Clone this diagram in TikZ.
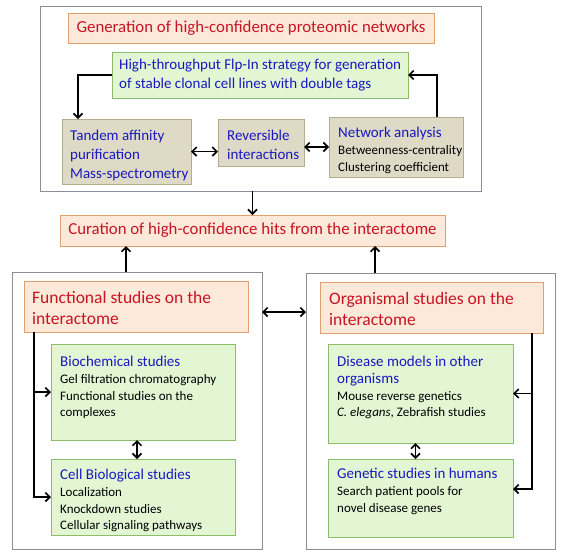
\documentclass[tikz,border=0pt]{standalone}
\usepackage{fontspec}
\setmainfont{Carlito}
\usetikzlibrary{arrows.meta}
\definecolor{tred}{RGB}{200,20,35}
\definecolor{tblue}{RGB}{25,25,190}
\definecolor{pfill}{RGB}{252,233,218}
\definecolor{pdraw}{RGB}{226,160,110}
\definecolor{gfill}{RGB}{226,246,212}
\definecolor{gdraw}{RGB}{140,190,105}
\definecolor{tfill}{RGB}{222,218,198}
\definecolor{tdraw}{RGB}{180,172,140}
\definecolor{odraw}{RGB}{140,140,155}
\newcommand\redf{\fontsize{17.5}{21}\selectfont}
\newcommand\redtf{\fontsize{16.8}{21}\selectfont}
\newcommand\bluf{\fontsize{15}{19}\selectfont}
\newcommand\blkf{\fontsize{13}{16.7}\selectfont}
\newcommand\bl[1]{{\color{tblue}\bluf #1}}
\begin{document}
\begin{tikzpicture}[x=1pt,y=-1pt,
  box/.style={draw, line width=0.8pt, anchor=north west, inner sep=0pt, outer sep=0pt},
  outerbox/.style={box, draw=odraw, fill=white},
  peach/.style={box, draw=pdraw, fill=pfill, text=tred, font=\redtf},
  greenbox/.style={box, draw=gdraw, fill=gfill},
  tanbox/.style={box, draw=tdraw, fill=tfill},
  arr/.style={line width=1.7pt, -{Straight Barb[length=4.5pt,width=9pt]}},
  darr/.style={line width=1.7pt, {Straight Barb[length=4.5pt,width=9pt]}-{Straight Barb[length=4.5pt,width=9pt]}},
  txtw/.style={anchor=west, inner sep=0pt, align=left},
  txtn/.style={anchor=north west, inner sep=0pt, align=left},
  redt/.style={text=tred, font=\redf},
  bluet/.style={text=tblue, font=\bluf},
  blkt/.style={text=black, font=\blkf}]
\useasboundingbox (0,0) rectangle (568,557);

% top section
\node[outerbox, minimum width=441pt, minimum height=185pt] (top) at (40,6) {};
\node[peach, minimum width=366pt, minimum height=30pt] (gen) at (68,13) {Generation of high-confidence proteomic networks};
\node[greenbox, minimum width=296pt, minimum height=46pt] (flp) at (112,52) {};
\node[txtw, bluet] (flpt) at ([xshift=7pt]flp.west) {High-throughput Flp-In strategy for generation\\of stable clonal cell lines with double tags};
\node[tanbox, minimum width=129pt, minimum height=65pt] (tan) at (62,119) {};
\node[txtw, bluet] (tant) at ([xshift=8pt,yshift=-4pt]tan.west) {Tandem affinity\\purification\\Mass-spectrometry};
\node[tanbox, minimum width=86pt, minimum height=47pt] (rev) at (218,119) {};
\node[txtw, bluet] (revt) at ([xshift=9pt,yshift=-2pt]rev.west) {Reversible\\interactions};
\node[tanbox, minimum width=134pt, minimum height=60pt] (net) at (329,117) {};
\node[txtw, blkt] (nett) at ([xshift=9pt,yshift=-3.5pt]net.west) {\bl{Network analysis}\\Betweenness-centrality\\Clustering coefficient};

% curation
\node[peach, minimum width=385pt, minimum height=31pt] (cur) at (60,215) {Curation of high-confidence hits from the interactome};

% left section
\node[outerbox, minimum width=250pt, minimum height=277pt] (lo) at (12,272) {};
\node[peach, minimum width=224pt, minimum height=51pt] (func) at (24,281) {};
\node[txtw, redt] (funct) at ([xshift=8pt,yshift=-1pt]func.west) {Functional studies on the\\interactome};
\node[greenbox, minimum width=184pt, minimum height=96pt] (bio) at (51,344) {};
\node[txtn, blkt] (biot) at ([xshift=9pt,yshift=-12pt]bio.north west) {\bl{Biochemical studies}\\Gel filtration chromatography\\Functional studies on the\\complexes};
\node[greenbox, minimum width=184pt, minimum height=76pt] (cell) at (51,459) {};
\node[txtn, blkt] (cellt) at ([xshift=9pt,yshift=-10pt]cell.north west) {\bl{Cell Biological studies}\\Localization\\Knockdown studies\\Cellular signaling pathways};

% right section
\node[outerbox, minimum width=249pt, minimum height=276pt] (ro) at (306,273) {};
\node[peach, minimum width=223pt, minimum height=51pt] (org) at (320,282) {};
\node[txtw, redt] (orgt) at ([xshift=9pt,yshift=-1pt]org.west) {Organismal studies on the\\interactome};
\node[greenbox, minimum width=185pt, minimum height=99pt] (dis) at (328,344) {};
\node[txtn, blkt] (dist) at ([xshift=9pt,yshift=-12pt]dis.north west) {\bl{Disease models in other}\\\bl{organisms}\\Mouse reverse genetics\\\textit{C. elegans}, Zebrafish studies};
\node[greenbox, minimum width=185pt, minimum height=78pt] (gen2) at (328,459) {};
\node[txtn, blkt] (gen2t) at ([xshift=9pt,yshift=-9pt]gen2.north west) {\bl{Genetic studies in humans}\\Search patient pools for\\novel disease genes};

% connectors top
\coordinate (tanin) at ([xshift=16pt]tan.north west);
\draw[arr] (flp.west) -| (tanin);
\coordinate (netout) at ([xshift=108pt]net.north west);
\draw[arr] (netout) |- (flp.east);
\draw[darr] (tan.east) -- (tan.east -| rev.west);
\draw[darr] (net.west -| rev.east) -- (net.west);
\draw[arr] (cur.north |- top.south) -- (cur.north);

% connectors to curation
\coordinate (loout) at ([xshift=114pt]lo.north west);
\draw[arr] (loout) -- (loout |- cur.south);
\coordinate (roout) at ([xshift=69pt]ro.north west);
\draw[arr] (roout) -- (roout |- cur.south);
\coordinate (lomid) at ([yshift=-40pt]lo.north east);
\draw[darr] (lomid) -- (lomid -| ro.west);

% left inner
\coordinate (fdown) at ([xshift=10pt]func.south west);
\draw[arr] (fdown) |- (cell.west);
\draw[arr] (fdown |- bio.west) -- (bio.west);
\draw[darr] ([xshift=-6pt]bio.south) -- ([xshift=-6pt]cell.north);

% right inner
\coordinate (odown) at ([xshift=-11pt]org.south east);
\coordinate (g2in) at ([yshift=9pt]gen2.east);
\draw[arr] (odown) |- (g2in);
\draw[arr] (odown |- dis.east) -- (dis.east);
\draw[darr] ([xshift=-5pt]dis.south) -- ([xshift=-5pt]gen2.north);
\end{tikzpicture}
\end{document}
